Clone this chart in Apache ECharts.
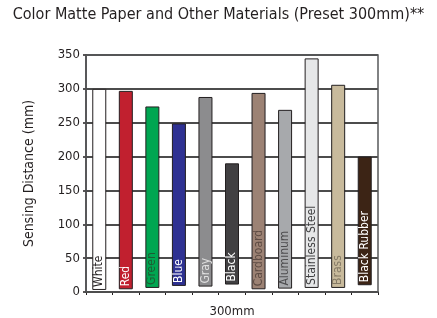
<!DOCTYPE html>
<html>
<head>
<meta charset="utf-8">
<script src="https://cdn.jsdelivr.net/npm/echarts@6/dist/echarts.min.js"></script>
<style>
  html, body { margin: 0; padding: 0; background: #fff; }
  #chart { width: 437px; height: 318px; }
</style>
</head>
<body>
<div id="chart"></div>
<script>
const materials = ["White", "Red", "Green", "Blue", "Gray", "Black", "Cardboard", "Aluminum", "Stainless Steel", "Brass", "Black Rubber"];
// bar tops (sensing distance, mm) and where each drawn bar begins
const distances = [300, 297, 274, 249, 288, 190, 294, 269, 345, 306, 200];
const barBottoms = [3, 4, 6, 9, 8, 11, 4, 5, 6, 6, 10];
const barColors = ["#ffffff", "#c1202f", "#00a651", "#2e3192", "#8c8c8e", "#414042", "#9c8274", "#a7a9ac", "#e6e7e8", "#c8ba9c", "#3c2415"];
const labelColors = ["#231f20", "#ffffff", "#1e5b32", "#ffffff", "#e0e0e0", "#ffffff", "#5e4c44", "#4d4d4f", "#3f3f41", "#857a66", "#ffffff"];
const yTicks = [0, 50, 100, 150, 200, 250, 300, 350];

const font = "'Liberation Sans Narrow', 'DejaVu Sans Condensed', 'Liberation Sans', sans-serif";
const chart = echarts.init(document.getElementById("chart"));

chart.setOption({
  animation: false,
  textStyle: { fontFamily: font },
  title: {
    text: "Color Matte Paper and Other Materials (Preset 300mm)**",
    left: "center",
    top: 2,
    textStyle: { fontFamily: font, fontSize: 16, fontWeight: "normal", color: "#231f20" },
  },
  grid: { left: 86, right: 59, top: 55, bottom: 26, outerBoundsMode: "none" },
  xAxis: {
    type: "category",
    data: materials,
    name: "300mm",
    nameLocation: "middle",
    nameGap: 13,
    nameTextStyle: { fontFamily: font, fontSize: 13, color: "#231f20" },
    axisLine: { lineStyle: { color: "#231f20", width: 1.5 } },
    axisTick: { show: true, interval: 0, length: 3, lineStyle: { color: "#231f20" } },
    axisLabel: { show: false },
  },
  yAxis: {
    type: "value",
    min: yTicks[0],
    max: yTicks[yTicks.length - 1],
    interval: 50,
    name: "Sensing Distance (mm)",
    nameLocation: "middle",
    nameGap: 50,
    nameTextStyle: { fontFamily: font, fontSize: 14, color: "#231f20" },
    axisLine: { show: true, lineStyle: { color: "#231f20", width: 1.5 } },
    axisTick: { show: true, length: 3, lineStyle: { color: "#231f20", width: 1.5 } },
    axisLabel: { fontFamily: font, fontSize: 13, color: "#231f20", margin: 6 },
    splitLine: { show: true, lineStyle: { color: "#111111", width: 1.5 } },
  },
  series: [
    {
      type: "bar",
      stack: "d",
      silent: true,
      itemStyle: { color: "transparent" },
      data: barBottoms,
    },
    {
      type: "bar",
      stack: "d",
      barWidth: 14,
      data: distances.map((v, i) => ({
        value: v - barBottoms[i],
        itemStyle: { color: barColors[i], borderColor: "#231f20", borderWidth: 1 },
        label: { color: labelColors[i] },
      })),
      label: {
        show: true,
        formatter: (p) => materials[p.dataIndex],
        position: "insideBottom",
        rotate: 90,
        align: "left",
        verticalAlign: "middle",
        distance: 3,
        fontFamily: font,
        fontSize: 12,
      },
    },
  ],
  graphic: [
    {
      type: "rect",
      shape: { x: 86, y: 55, width: 292, height: 237 },
      style: { fill: "none", stroke: "#58595b", lineWidth: 1.5 },
      silent: true,
      z: 5,
    },
  ],
});
</script>
</body>
</html>
